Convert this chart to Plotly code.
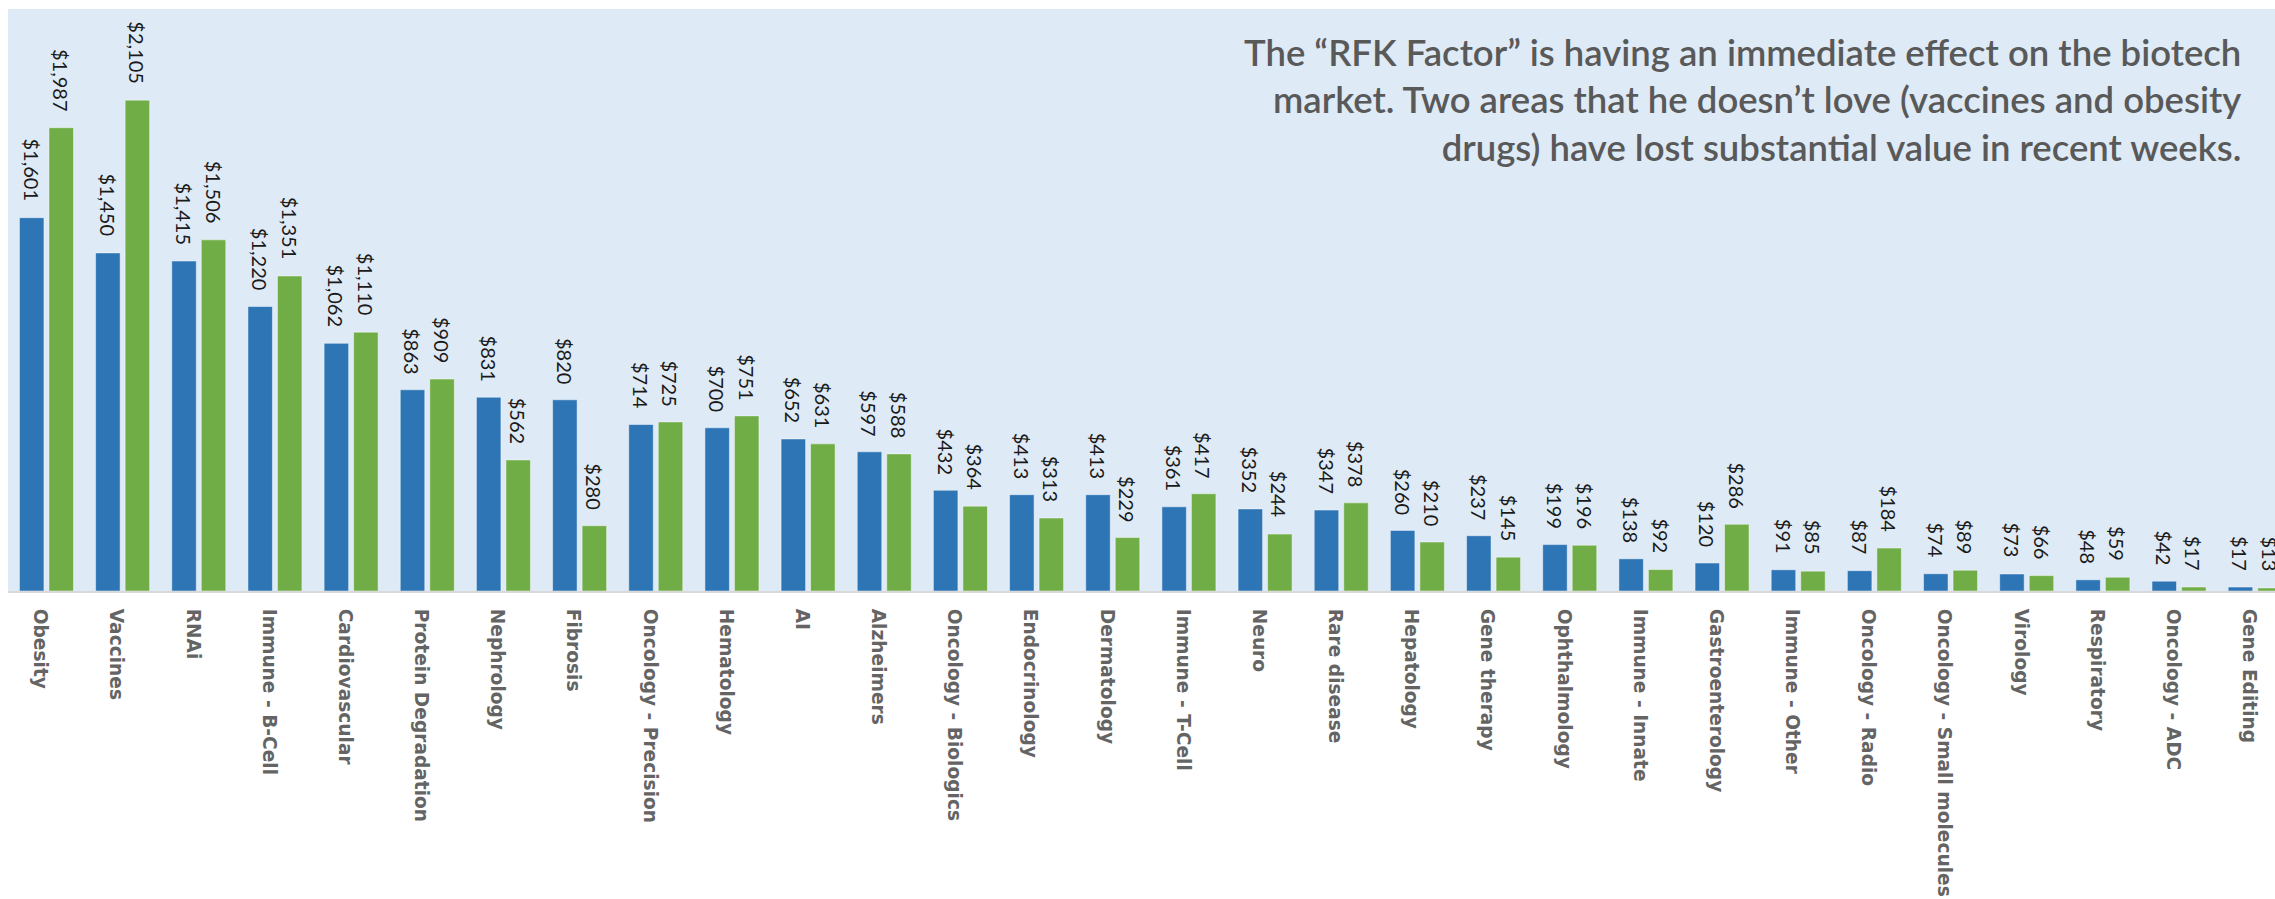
import plotly.graph_objects as go

# Biotech sector market value by therapeutic area ($)
categories = [
    "Obesity", "Vaccines", "RNAi", "Immune - B-Cell", "Cardiovascular",
    "Protein Degradation", "Nephrology", "Fibrosis", "Oncology - Precision",
    "Hematology", "AI", "Alzheimers", "Oncology - Biologics", "Endocrinology",
    "Dermatology", "Immune - T-Cell", "Neuro", "Rare disease", "Hepatology",
    "Gene therapy", "Ophthalmology", "Immune - Innate", "Gastroenterology",
    "Immune - Other", "Oncology - Radio", "Oncology - Small molecules",
    "Virology", "Respiratory", "Oncology - ADC", "Gene Editing",
]
current_values = [
    1601, 1450, 1415, 1220, 1062, 863, 831, 820, 714, 700, 652, 597, 432, 413,
    413, 361, 352, 347, 260, 237, 199, 138, 120, 91, 87, 74, 73, 48, 42, 17,
]
earlier_values = [
    1987, 2105, 1506, 1351, 1110, 909, 562, 280, 725, 751, 631, 588, 364, 313,
    229, 417, 244, 378, 210, 145, 196, 92, 286, 85, 184, 89, 66, 59, 17, 13,
]
headline = (
    "The \u201cRFK Factor\u201d is having an immediate effect on the biotech<br>"
    "market. Two areas that he doesn\u2019t love (vaccines and obesity<br>"
    "drugs) have lost substantial value in recent weeks."
)

BLUE = "#2E75B6"
GREEN = "#70AD47"
BG = "#DEEAF6"

W, H = 2275, 899
M_L, M_R, M_T, M_B = 8, 0, 9, 308

x_idx = list(range(len(categories)))
BARGAP = 0.225
GROUPGAP = 0.17
slot = (1 - BARGAP) / 2          # width of one series slot, in category units
offset = slot / 2                # centre of each bar relative to its category

fig = go.Figure()
bar_line = dict(color="rgba(255,255,255,0.45)", width=1)
fig.add_trace(go.Bar(x=x_idx, y=current_values, marker=dict(color=BLUE, line=bar_line),
                     hoverinfo="skip"))
fig.add_trace(go.Bar(x=x_idx, y=earlier_values, marker=dict(color=GREEN, line=bar_line),
                     hoverinfo="skip"))

label_font = dict(family="Lato", size=20, color="#1A1A1A", weight=400)
annotations = []
for i in x_idx:
    for val, dx in ((current_values[i], -offset), (earlier_values[i], offset)):
        annotations.append(dict(
            x=i + dx, y=val, xref="x", yref="y",
            text=f"${val:,}", showarrow=False, textangle=90,
            xanchor="center", yanchor="bottom", yshift=14,
            font=label_font,
        ))

plot_h = H - M_T - M_B
annotations.append(dict(
    x=(2243 - M_L) / (W - M_L - M_R), y=1 - 19 / plot_h,
    xref="paper", yref="paper", xanchor="right", yanchor="top",
    text=headline, align="right", showarrow=False,
    font=dict(family="Lato", size=36.5, color="#595959", weight=600),
))

fig.update_layout(
    width=W, height=H, autosize=False,
    margin=dict(l=M_L, r=M_R, t=M_T, b=M_B, pad=0),
    paper_bgcolor="white", plot_bgcolor=BG,
    barmode="group", bargap=BARGAP, bargroupgap=GROUPGAP,
    showlegend=False, template="none",
    annotations=annotations,
)
fig.update_xaxes(
    range=[-0.505, 29.26], tickvals=[i - 0.08 for i in x_idx], ticktext=categories,
    tickangle=90, ticks="outside", ticklen=12, tickcolor="rgba(0,0,0,0)",
    tickfont=dict(family="DejaVu Sans", size=18.6, color="#646464", weight="bold"),
    showgrid=False, zeroline=False, showline=True, linecolor="#D9D9D9", linewidth=2,
    automargin=False, fixedrange=True,
)
fig.update_yaxes(
    range=[0, 2496], showgrid=False, zeroline=False, showticklabels=False,
    showline=False, automargin=False, fixedrange=True,
)

fig.write_html("out.html", config={"displayModeBar": False})
